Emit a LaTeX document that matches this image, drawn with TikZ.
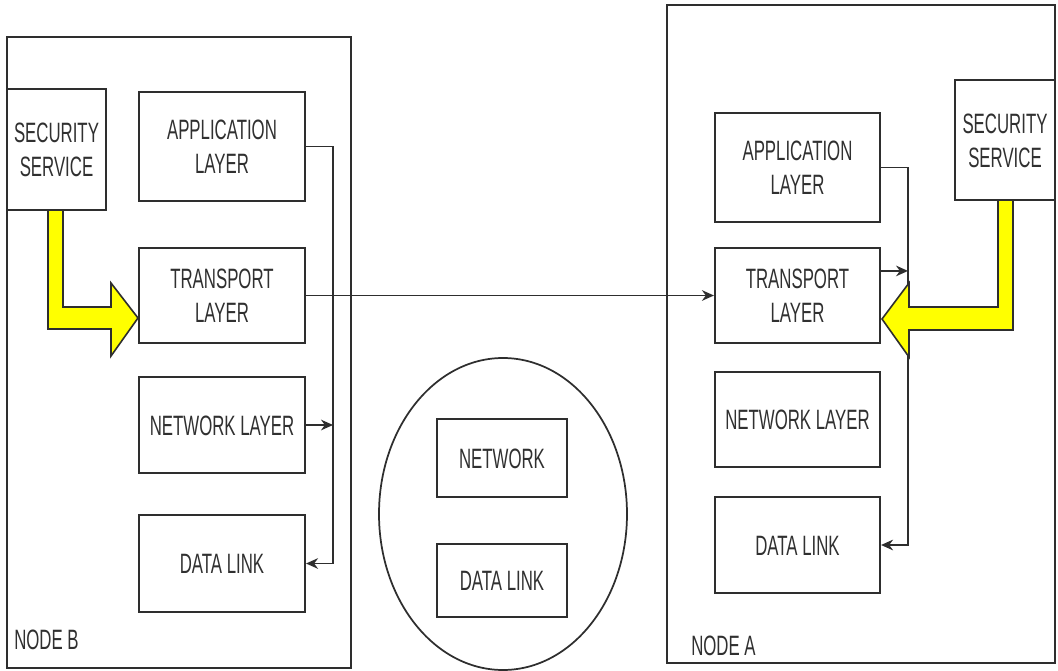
\documentclass[tikz,border=0pt]{standalone}
\usepackage{fontspec}
\setmainfont{Liberation Sans}[FakeStretch=0.6]
\usetikzlibrary{fit,calc,arrows.meta,shapes.geometric}
\definecolor{ink}{HTML}{2E2E2E}
\definecolor{txt}{HTML}{303030}
\definecolor{hilite}{HTML}{FFFF00}
% captions centred on a box, one or two lines
\newcommand\oneline[2]{\node[lbl] (#1-1) at (#1.center) {#2};}
\newcommand\twoline[3]{%
  \node[lbl] (#1-1) at ($(#1.center)+(0,-17)$) {#2};
  \node[lbl] (#1-2) at ($(#1.center)+(0,17)$) {#3};}
\begin{document}
\begin{tikzpicture}[x=0.75pt,y=-0.75pt,
  every node/.style={text=txt, font=\fontsize{21}{26}\selectfont},
  lbl/.style={inner sep=0pt, text height=15pt, text depth=0pt, anchor=center},
  frame/.style={draw=ink, line width=1.4pt, inner sep=0pt},
  layerbox/.style={draw=ink, line width=1.6pt, inner sep=0pt},
  link/.style={draw=ink, line width=1.1pt},
  tip/.style={-{Stealth[length=9pt,width=8pt]}},
  blockarrow/.style={fill=hilite, draw=ink, line width=1.2pt, line join=miter}]
\useasboundingbox[fill=white] (0,0) rectangle (1058,671);

% outer frames of the two end systems
\node[frame, fit={(7,37) (351,668)}] (sysB) {};
\node[frame, fit={(667,5) (1055,663)}] (sysA) {};
\node[lbl, anchor=west] (labB) at (14,639) {NODE B};
\node[lbl, anchor=west] (labA) at (691,645) {NODE A};

% NODE B stack
\node[layerbox, fit={(7,89) (106,210)}] (secB) {};
\node[layerbox, fit={(139,92) (305,201)}] (appB) {};
\node[layerbox, fit={(139,248) (305,343)}] (trB) {};
\node[layerbox, fit={(139,377) (305,473)}] (netB) {};
\node[layerbox, fit={(139,515) (305,612)}] (dlB) {};
\twoline{secB}{SECURITY}{SERVICE}
\twoline{appB}{APPLICATION}{LAYER}
\twoline{trB}{TRANSPORT}{LAYER}
\oneline{netB}{NETWORK LAYER}
\oneline{dlB}{DATA LINK}

% NODE A stack
\node[layerbox, fit={(955,80) (1055,200)}] (secA) {};
\node[layerbox, fit={(715,113) (880,222)}] (appA) {};
\node[layerbox, fit={(715,248) (880,343)}] (trA) {};
\node[layerbox, fit={(715,372) (880,467)}] (netA) {};
\node[layerbox, fit={(715,497) (880,593)}] (dlA) {};
\twoline{secA}{SECURITY}{SERVICE}
\twoline{appA}{APPLICATION}{LAYER}
\twoline{trA}{TRANSPORT}{LAYER}
\oneline{netA}{NETWORK LAYER}
\oneline{dlA}{DATA LINK}

% intermediate network
\node[draw=ink, line width=1.3pt, ellipse, inner sep=0pt,
      minimum width=186pt, minimum height=234pt] (mid) at (503,514) {};
\node[layerbox, fit={(437,419) (567,497)}] (netM) {};
\node[layerbox, fit={(437,544) (567,617)}] (dlM) {};
\oneline{netM}{NETWORK}
\oneline{dlM}{DATA LINK}

% vertical buses
\coordinate (busB) at (333,0);
\coordinate (busA) at (908,0);

% NODE B internal flow
\draw[link, tip] (appB.east) -- (appB.east -| busB) -- (dlB.east -| busB) -- (dlB.east);
\draw[link, tip] (netB.east) -- (netB.east -| busB);

% NODE A internal flow
\coordinate (trAout) at ($(trA.north east)+(0,24)$);
\draw[link, tip] (appA.east) -- (appA.east -| busA) -- (dlA.east -| busA) -- (dlA.east);
\draw[link, tip] (trAout) -- (trAout -| busA);

% transport to transport
\draw[link, tip] (trB.east) -- (trA.west);

% security service feeds (block arrows)
\draw[blockarrow] (48,210) -- (48,329) -- (111,329) -- (111,356) -- (138,318)
  -- (111,283) -- (111,307) -- (63,307) -- (63,210) -- cycle;
\draw[blockarrow] (1013,200) -- (1013,330) -- (909,330) -- (909,357) -- (882,319)
  -- (909,283) -- (909,307) -- (998,307) -- (998,200) -- cycle;
\end{tikzpicture}
\end{document}
